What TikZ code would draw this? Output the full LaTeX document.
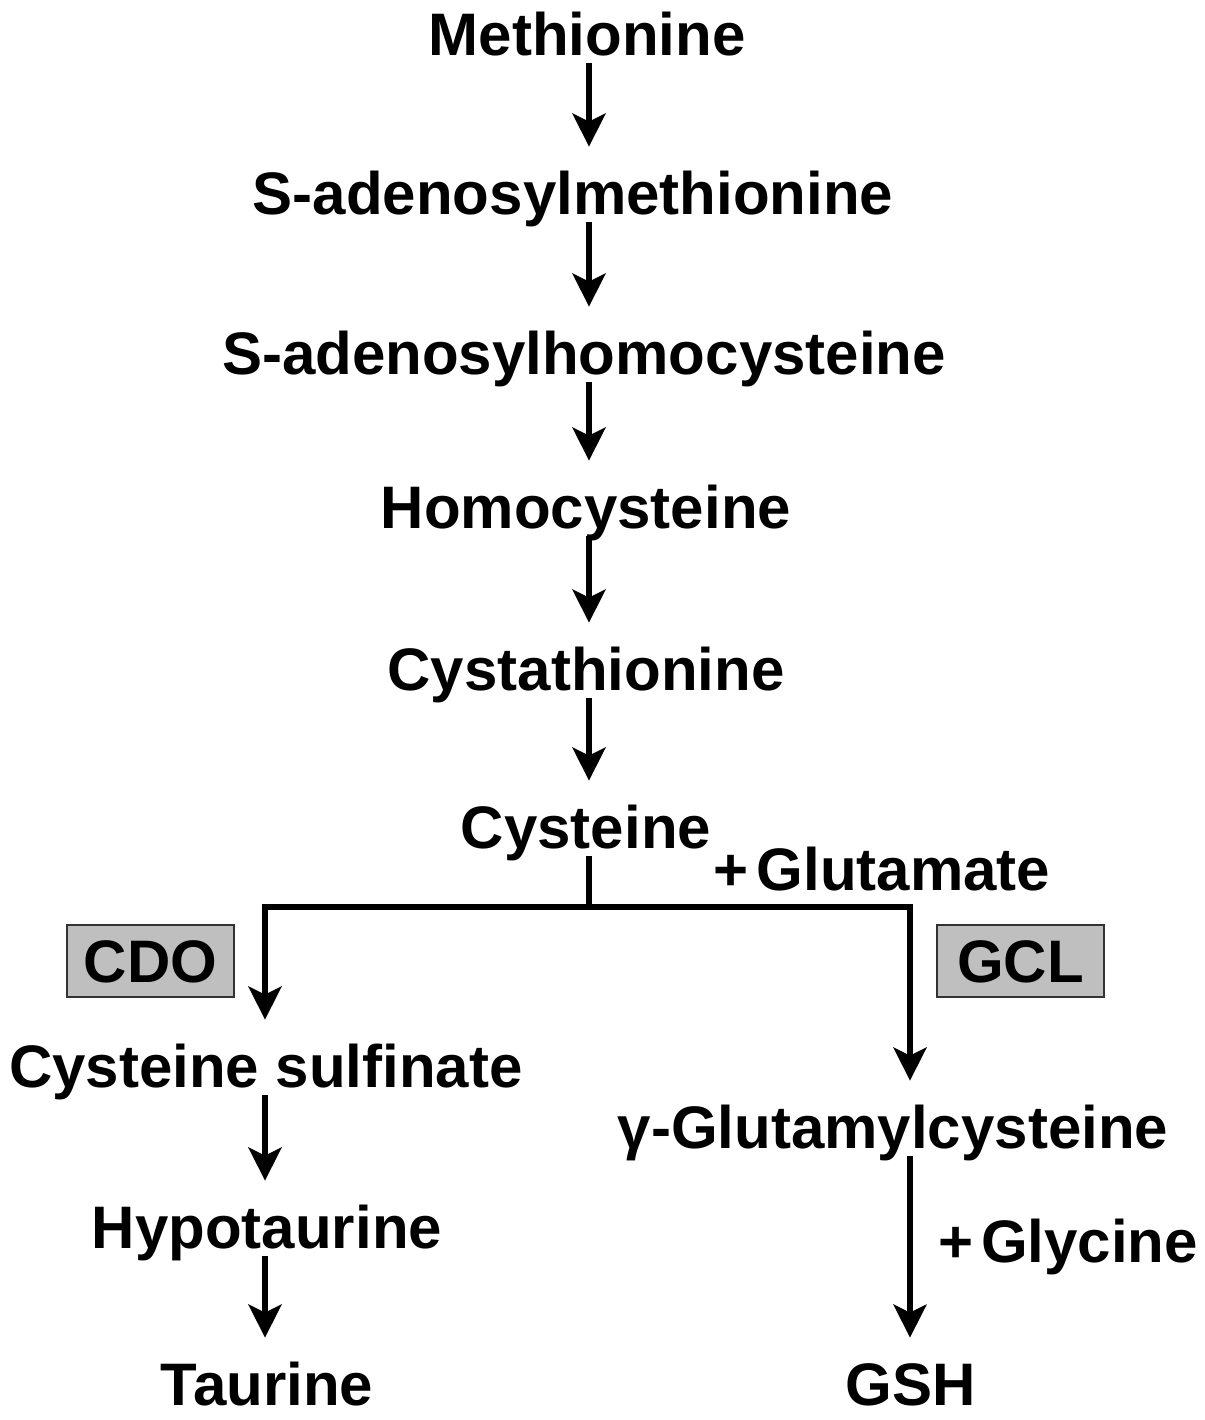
\documentclass[tikz,border=0pt]{standalone}
\usepackage{fontspec}
\setmainfont{Liberation Sans}
\usetikzlibrary{arrows.meta}
\begin{document}
\begin{tikzpicture}[x=0.5pt,y=-0.5pt,
  lbl/.style={font=\fontsize{30}{36}\selectfont\bfseries, inner xsep=0pt, inner ysep=4pt, text height=21.5pt, text depth=0pt},
  enz/.style={lbl, draw=black!80, line width=1.2pt, fill=black!25, minimum width=83.5pt, minimum height=36pt, inner ysep=0pt},
  arr/.style={line width=2.6pt, -{Stealth[length=16.5pt,width=16.5pt,inset=4pt]}, shorten >=8pt},
  ln/.style={line width=2.6pt}]
\useasboundingbox (0,0) rectangle (1205,1420);
\coordinate (cx) at (589,0);
\coordinate (lx) at (265,0);
\coordinate (rx) at (910,0);
\node[lbl, anchor=base] (met) at (587,55) {Methionine};
\node[lbl, anchor=base] (sam) at (573,214) {S-adenosylmethionine};
\node[lbl, anchor=base] (sah) at (584,374) {S-adenosylhomocysteine};
\node[lbl, anchor=base] (hcy) at (586,528) {Homocysteine};
\node[lbl, anchor=base] (cth) at (586,690) {Cystathionine};
\node[lbl, anchor=base] (cys) at (586,848) {Cysteine};
\node[lbl, anchor=base] (glu) at (882,890) {+\hspace{4pt}Glutamate};
\node[enz] (cdo) at (150.5,961) {CDO};
\node[enz] (gcl) at (1020.5,961) {GCL};
\node[lbl, anchor=base] (csa) at (266,1087) {Cysteine sulfinate};
\node[lbl, anchor=base] (hyp) at (267,1248) {Hypotaurine};
\node[lbl, anchor=base] (tau) at (267,1405) {Taurine};
\node[lbl, anchor=base] (gglu) at (893,1148) {γ-Glutamylcysteine};
\node[lbl, anchor=base] (gly) at (1068,1262) {+\hspace{4pt}Glycine};
\node[lbl, anchor=base] (gsh) at (911,1405) {GSH};
\coordinate (br) at (589,907);
\draw[arr] (met.south -| cx) -- (sam.north -| cx);
\draw[arr] (sam.south -| cx) -- (sah.north -| cx);
\draw[arr] (sah.south -| cx) -- (hcy.north -| cx);
\draw[arr] (hcy.south -| cx) -- (cth.north -| cx);
\draw[arr] (cth.south -| cx) -- (cys.north -| cx);
\draw[ln] (cys.south -| cx) -- (br);
\draw[arr, line cap=rect] (br) -| (csa.north -| lx);
\draw[arr, line cap=rect] (br) -| (gglu.north -| rx);
\draw[arr] (csa.south -| lx) -- (hyp.north -| lx);
\draw[arr] (hyp.south -| lx) -- (tau.north -| lx);
\draw[arr] (gglu.south -| rx) -- (gsh.north -| rx);
\end{tikzpicture}
\end{document}
